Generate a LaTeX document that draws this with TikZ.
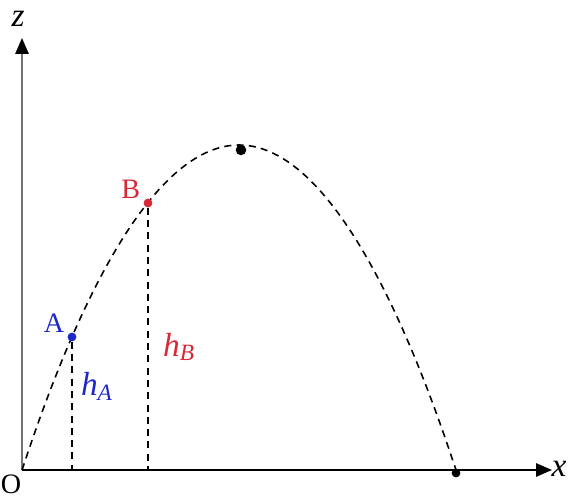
\documentclass[tikz,border=0pt]{standalone}
\usepackage{fontspec}
\setmainfont{Liberation Serif}
\usetikzlibrary{positioning,arrows.meta}
\definecolor{ptblue}{RGB}{30,40,200}
\definecolor{ptred}{RGB}{215,40,55}
\newcommand{\hsub}[1]{\textit{h}\textsubscript{\textit{#1}}}

\begin{document}
\begin{tikzpicture}[x=0.02cm,y=0.02cm,
    axis/.style={line width=1.1pt,-{Triangle[length=9pt,width=7.5pt,color=black]}},
    traj/.style={line width=0.9pt,dash pattern=on 4pt off 3pt},
    dot/.style={circle,fill,inner sep=0pt,minimum size=5pt},
    lbl/.style={font=\fontsize{16}{18}\selectfont},
    big/.style={font=\fontsize{19}{21}\selectfont}
  ]
    \useasboundingbox (0,0) rectangle (568,500);
    \coordinate (O) at (22,30);
    \coordinate (xend) at (552,30);
    \coordinate (zend) at (22,462);
    \coordinate (top) at (239,355);
    \coordinate (Af) at (72,30);
    \coordinate (Bf) at (148,30);
    \draw[axis] (O) -- (xend);
    \draw[axis,black!55] (O) -- (zend);
    \draw[traj] (O) parabola bend (top) (456,30);
    \node[dot,ptblue] (A) at (72,163) {};
    \node[dot,ptred] (B) at (148,297) {};
    \node[dot,minimum height=6pt,minimum width=4.5pt] (apex) at (241,350) {};
    \node[dot] (land) at (456,27) {};
    \draw[traj] (A) -- (Af);
    \draw[traj] (B) -- (Bf);
    \node[lbl,ptblue,above left=-3pt and -1pt of A] (Alab) {A};
    \node[lbl,ptred,above left=-3pt and -1pt of B] (Blab) {B};
    \node[big,ptblue] (hA) at (97,114) {\hsub{A}};
    \node[big,ptred] (hB) at (179,153) {\hsub{B}};
    \node[lbl,inner sep=0pt] (Olab) at (11,16) {O};
    \node[big] (xlab) at (559,31) {\textit{x}};
    \node[big] (zlab) at (18,481) {\textit{z}};
\end{tikzpicture}
\end{document}
